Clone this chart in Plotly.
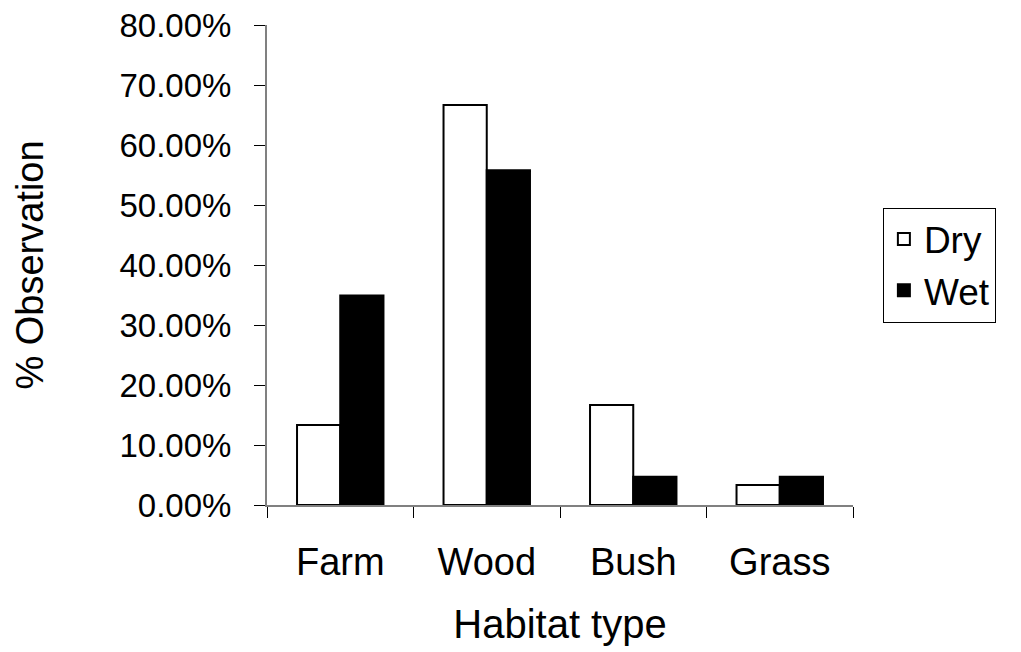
import plotly.graph_objects as go

categories = ["Farm", "Wood", "Bush", "Grass"]
dry = [0.1333, 0.6667, 0.1667, 0.0333]
wet = [0.349, 0.558, 0.047, 0.047]
y_ticks = [0, 0.1, 0.2, 0.3, 0.4, 0.5, 0.6, 0.7, 0.8]

FONT = "Liberation Sans, Arial, sans-serif"

fig = go.Figure()
fig.add_trace(go.Bar(name="Dry", x=categories, y=dry,
                     marker=dict(color="white", line=dict(color="black", width=2))))
fig.add_trace(go.Bar(name="Wet", x=categories, y=wet,
                     marker=dict(color="black", line=dict(color="black", width=2))))

# page body has an 8px default margin, so the figure is offset by 8px
fig.update_layout(
    width=1013, height=644,
    margin=dict(l=259, r=168, t=17, b=147, autoexpand=False),
    paper_bgcolor="white", plot_bgcolor="white",
    barmode="group", bargap=0.41, bargroupgap=0,
    font=dict(family=FONT, size=34, color="black"),
    showlegend=True,
    legend=dict(x=1.051, y=0.5, xanchor="left", yanchor="middle",
                bordercolor="black", borderwidth=1, bgcolor="white",
                font=dict(size=37), itemwidth=30, tracegroupgap=0),
)
fig.update_xaxes(
    showline=True, linecolor="#808080", linewidth=2,
    ticks="outside", ticklen=11, tickcolor="black", tickwidth=1,
    tickson="boundaries", showgrid=False,
    tickfont=dict(size=38),
    ticklabelstandoff=22,
    title=dict(text="Habitat type", standoff=28, font=dict(size=40)),
)
fig.update_yaxes(
    range=[0, 0.8], tickvals=y_ticks, tickformat=".2%",
    showline=True, linecolor="#808080", linewidth=2,
    ticks="outside", ticklen=11, tickcolor="black", tickwidth=1,
    showgrid=False, zeroline=False,
    tickfont=dict(size=33),
    ticklabelstandoff=16,
    ticklabeloverflow="allow",
    title=dict(text="% Observation", standoff=64, font=dict(size=38)),
)

fig.write_html("out.html")
